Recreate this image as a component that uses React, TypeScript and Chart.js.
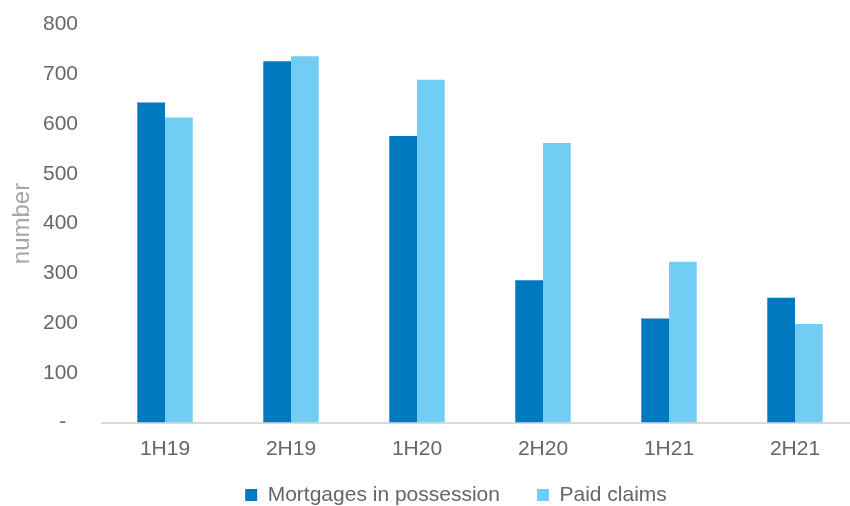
import React, { useEffect, useRef } from "react";
import { Chart, registerables } from "chart.js";

Chart.register(...registerables);

const categories = ["1H19", "2H19", "1H20", "2H20", "1H21", "2H21"];
const mortgagesInPossession = [643, 726, 576, 286, 209, 251];
const paidClaims = [613, 736, 689, 562, 323, 198];
const seriesLabels = ["Mortgages in possession", "Paid claims"];
const seriesColors = ["#0079C1", "#72CDF4"];
const yAxisTitle = "number";
const yMin = 0;
const yMax = 800;
const yStep = 100;

const FONT = "'Liberation Sans', Arial, sans-serif";

export default function App() {
  const ref = useRef<HTMLCanvasElement>(null);

  useEffect(() => {
    document.body.style.margin = "0";
    const canvas = ref.current;
    if (!canvas) return;

    const legendTweak = {
      id: "legendTweak",
      beforeLayout(chart: any) {
        const lg: any = chart.legend;
        if (lg && !lg.__patched) {
          const orig = lg.fit.bind(lg);
          lg.fit = () => {
            orig();
            lg.height = 28.5;
          };
          lg.__patched = true;
        }
      },
      afterLayout(chart: any) {
        const lg: any = chart.legend;
        if (lg) {
          lg.left += 27;
          lg.right += 27;
          lg.top = 447.5;
          lg.bottom = 506;
        }
      },
    };

    const chart = new Chart(canvas, {
      type: "bar",
      data: {
        labels: categories,
        datasets: [
          {
            label: seriesLabels[0],
            data: mortgagesInPossession,
            backgroundColor: seriesColors[0],
            borderWidth: 0,
          },
          {
            label: seriesLabels[1],
            data: paidClaims,
            backgroundColor: seriesColors[1],
            borderWidth: 0,
          },
        ],
      },
      options: {
        responsive: false,
        animation: false,
        devicePixelRatio: 1,
        layout: { padding: { top: 24.5, left: 0, right: 0, bottom: 0 } },
        datasets: {
          bar: { categoryPercentage: 0.44, barPercentage: 1 },
        },
        plugins: {
          tooltip: { enabled: false },
          legend: {
            position: "bottom",
            labels: {
              boxWidth: 12,
              boxHeight: 12,
              padding: 37,
              color: "#666666",
              font: { family: FONT, size: 21 },
            },
          },
        },
        scales: {
          x: {
            grid: { display: false, drawTicks: false },
            border: { display: true, color: "#D9D9D9", width: 2 },
            ticks: {
              color: "#666666",
              font: { family: FONT, size: 21 },
              padding: 14,
              maxRotation: 0,
            },
            afterFit(scale: any) {
              scale.height = 55;
            },
          },
          y: {
            min: yMin,
            max: yMax,
            grid: { display: false, drawTicks: false },
            border: { display: false },
            ticks: {
              stepSize: yStep,
              color: "#666666",
              font: { family: FONT, size: 21 },
              padding: 24,
              callback: (v: any) => (Number(v) === 0 ? "-  " : String(v)),
            },
            title: {
              display: true,
              text: yAxisTitle,
              color: "#A6A6A6",
              font: { family: FONT, size: 24 },
              padding: { top: 8, bottom: 0 },
            },
            afterFit(scale: any) {
              scale.width = 102;
              scale.paddingTop = 0;
              scale.paddingBottom = 0;
            },
          },
        },
      },
      plugins: [legendTweak],
    });

    return () => chart.destroy();
  }, []);

  return (
    <div
      style={{
        position: "absolute",
        left: 0,
        top: 0,
        width: 850,
        height: 506,
        overflow: "hidden",
        background: "#ffffff",
      }}
    >
      <canvas ref={ref} width={858} height={506} style={{ display: "block" }} />
    </div>
  );
}
